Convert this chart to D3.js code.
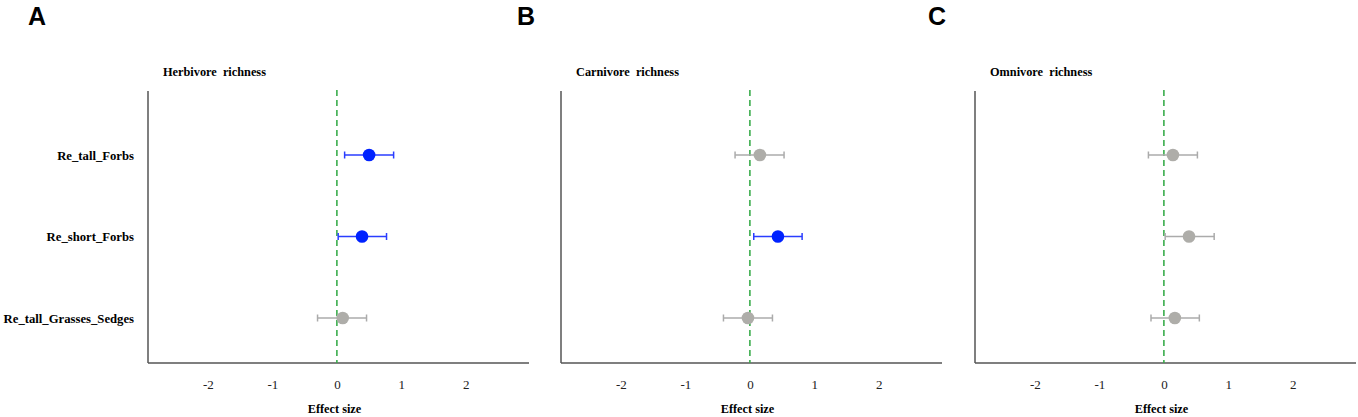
<!DOCTYPE html>
<html>
<head>
<meta charset="utf-8">
<script src="https://cdn.jsdelivr.net/npm/d3@7"></script>
<style>
  body { margin: 0; background: #fff; }
  svg text { white-space: pre; }
</style>
</head>
<body>
<svg id="chart" width="1358" height="417"></svg>
<script>
// rows (predictors), shared by all three panels
const rows = ["Re_tall_Forbs", "Re_short_Forbs", "Re_tall_Grasses_Sedges"];
const panelLetters = ["A", "B", "C"];
const panelTitles = ["Herbivore  richness", "Carnivore  richness", "Omnivore  richness"];
const xTicks = [-2, -1, 0, 1, 2];

// effect sizes with 95% CI
const herbEst = [0.50, 0.39, 0.09];
const herbLo  = [0.12, 0.02, -0.30];
const herbHi  = [0.88, 0.77, 0.46];
const herbSig = [true, true, false];

const carnEst = [0.155, 0.435, -0.03];
const carnLo  = [-0.23, 0.06, -0.41];
const carnHi  = [0.53, 0.81, 0.35];
const carnSig = [false, true, false];

const omniEst = [0.14, 0.39, 0.17];
const omniLo  = [-0.24, 0.02, -0.20];
const omniHi  = [0.52, 0.78, 0.55];
const omniSig = [false, false, false];

const series = [
  { est: herbEst, lo: herbLo, hi: herbHi, sig: herbSig },
  { est: carnEst, lo: carnLo, hi: carnHi, sig: carnSig },
  { est: omniEst, lo: omniLo, hi: omniHi, sig: omniSig }
];

const svg = d3.select("#chart");
const serif = "Liberation Serif, Times New Roman, serif";

// layout
const panelLeft = [148, 561, 975];
const letterX = [28, 517, 928];
const panelW = 381;
const axisTop = 91, axisBottom = 363;

const y = d3.scalePoint().domain(rows).range([155, 318]);

series.forEach((s, p) => {
  const x = d3.scaleLinear().domain([-2.93, 2.98]).range([panelLeft[p], panelLeft[p] + panelW]);
  const g = svg.append("g");

  // panel letter
  svg.append("text")
    .attr("x", letterX[p]).attr("y", 25)
    .attr("font-family", "Liberation Sans, Arial, sans-serif")
    .attr("font-weight", "bold").attr("font-size", 25)
    .text(panelLetters[p]);

  // title
  g.append("text")
    .attr("x", panelLeft[p] + 15).attr("y", 76)
    .attr("font-family", serif)
    .attr("font-weight", "bold").attr("font-size", 12.3)
    .text(panelTitles[p]);

  // axes (lines only, no tick marks)
  g.append("line")
    .attr("x1", panelLeft[p]).attr("x2", panelLeft[p])
    .attr("y1", axisTop).attr("y2", axisBottom)
    .attr("stroke", "#555").attr("stroke-width", 1.5);

  const xAxis = g.append("g")
    .attr("transform", `translate(0,${axisBottom})`)
    .call(d3.axisBottom(x).tickValues(xTicks).tickSize(0).tickPadding(17).tickFormat(d => String(d)));
  xAxis.select(".domain").attr("stroke", "#555").attr("stroke-width", 1.5)
    .attr("d", `M${panelLeft[p]},0H${panelLeft[p] + panelW}`);
  xAxis.selectAll("text")
    .attr("font-family", serif)
    .attr("font-size", 13).attr("fill", "#222");

  g.append("text")
    .attr("x", panelLeft[p] + panelW / 2 - 4).attr("y", 413)
    .attr("text-anchor", "middle")
    .attr("font-family", serif)
    .attr("font-weight", "bold").attr("font-size", 12.3)
    .text("Effect size");

  // zero reference line
  g.append("line")
    .attr("x1", x(0)).attr("x2", x(0))
    .attr("y1", axisTop - 1).attr("y2", axisBottom)
    .attr("stroke", "#3aad4c").attr("stroke-width", 1.6)
    .attr("stroke-dasharray", "6,4");

  // y labels only on the first panel
  if (p === 0) {
    g.selectAll(".ylab").data(rows).join("text")
      .attr("class", "ylab")
      .attr("x", 134).attr("y", d => y(d) + 4.5)
      .attr("text-anchor", "end")
      .attr("font-family", serif)
      .attr("font-weight", "bold").attr("font-size", 12.7)
      .text(d => d);
  }

  const pts = rows.map((r, i) => ({ row: r, est: s.est[i], lo: s.lo[i], hi: s.hi[i], sig: s.sig[i] }));
  const barCol = d => d.sig ? "#2a3dff" : "#ababab";
  const dotCol = d => d.sig ? "#0022ff" : "#aeada9";

  g.selectAll(".ci").data(pts).join("line")
    .attr("x1", d => x(d.lo)).attr("x2", d => x(d.hi))
    .attr("y1", d => y(d.row)).attr("y2", d => y(d.row))
    .attr("stroke", barCol).attr("stroke-width", 1.5);

  ["lo", "hi"].forEach(k => {
    g.selectAll(".cap-" + k).data(pts).join("line")
      .attr("x1", d => x(d[k])).attr("x2", d => x(d[k]))
      .attr("y1", d => y(d.row) - 3.5).attr("y2", d => y(d.row) + 3.5)
      .attr("stroke", barCol).attr("stroke-width", 1.5);
  });

  g.selectAll(".dot").data(pts).join("circle")
    .attr("cx", d => x(d.est)).attr("cy", d => y(d.row))
    .attr("r", 6.3)
    .attr("fill", dotCol);
});
</script>
</body>
</html>
